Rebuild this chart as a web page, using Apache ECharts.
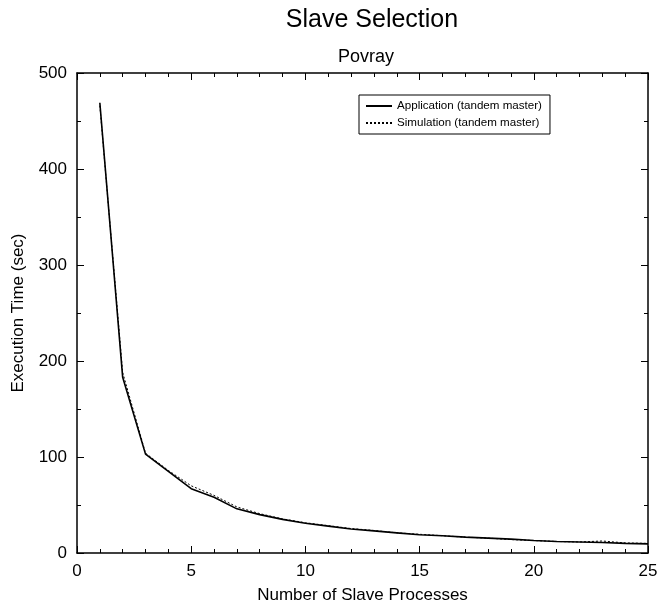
<!DOCTYPE html>
<html>
<head>
<meta charset="utf-8">
<script src="https://cdn.jsdelivr.net/npm/echarts@6/dist/echarts.min.js"></script>
<style>
  html, body { margin: 0; padding: 0; background: #fff; }
  #main { width: 662px; height: 609px; }
</style>
</head>
<body>
<div id="main"></div>
<script>
// slave process counts and execution times (sec)
const procs = [1, 2, 3, 4, 5, 6, 7, 8, 9, 10, 11, 12, 13, 14, 15, 16, 17, 18, 19, 20, 21, 22, 23, 24, 25]
const application = [469, 183, 103, 85, 67, 58, 46, 40, 35, 31, 28, 25, 23, 21, 19, 18, 16.5, 15.5, 14.5, 13, 12, 11.5, 11, 10, 9.5]
const simulation = [466, 188, 104, 86, 70, 60, 48, 41, 35.5, 31.5, 28.5, 25.5, 23.5, 21, 19.5, 18, 16.5, 15.5, 14, 13, 12, 11.5, 12.5, 10.5, 10]

const font = 'Liberation Sans'
const toPairs = (ys) => procs.map((x, i) => [x, ys[i]])

const myChart = echarts.init(document.getElementById('main'))

// ticks on the top and right edges of the box
function sideAxis(position, max, interval, split){
    return {
        type: 'value',
        position: position,
        min: 0,
        max: max,
        interval: interval,
        axisLine: { show: true, onZero: false, lineStyle: { color: '#000', width: 1.5 } },
        axisTick: { show: true, inside: true, length: 7, lineStyle: { color: '#000' } },
        minorTick: { show: true, splitNumber: split, length: 4, lineStyle: { color: '#000' } },
        axisLabel: { show: false },
        splitLine: { show: false }
    }
}

const option = {
    animation: false,
    textStyle: { fontFamily: font },
    title: [
        {
            text: 'Slave Selection',
            left: 367,
            textAlign: 'center',
            top: 3,
            textStyle: { fontFamily: font, fontSize: 25, fontWeight: 'normal', color: '#000' }
        },
        {
            text: 'Povray',
            left: 361,
            textAlign: 'center',
            top: 43,
            textStyle: { fontFamily: font, fontSize: 18, fontWeight: 'normal', color: '#000' }
        }
    ],
    legend: {
        orient: 'vertical',
        left: 359,
        top: 95,
        padding: [5, 8, 5, 6],
        itemGap: 5,
        itemWidth: 26,
        itemHeight: 8,
        borderColor: '#000',
        borderWidth: 1,
        itemStyle: { opacity: 0 },
        textStyle: { fontFamily: font, fontSize: 11.6, color: '#000' },
        data: ['Application (tandem master)', 'Simulation (tandem master)']
    },
    grid: { left: 77, right: 14, top: 73, bottom: 51 },
    xAxis: [
        {
            type: 'value',
            min: 0,
            max: 25,
            interval: 5,
            name: 'Number of Slave Processes',
            nameLocation: 'middle',
            nameGap: 34,
            nameTextStyle: { fontFamily: font, fontSize: 17, color: '#000' },
            axisLine: { lineStyle: { color: '#000', width: 1.5 } },
            axisTick: { inside: true, length: 7, lineStyle: { color: '#000' } },
            minorTick: { show: true, splitNumber: 5, length: 4, lineStyle: { color: '#000' } },
            axisLabel: { fontFamily: font, fontSize: 17, color: '#000', margin: 10 },
            splitLine: { show: false }
        },
        sideAxis('top', 25, 5, 5)
    ],
    yAxis: [
        {
            type: 'value',
            min: 0,
            max: 500,
            interval: 100,
            name: 'Execution Time (sec)',
            nameLocation: 'middle',
            nameGap: 50,
            nameTextStyle: { fontFamily: font, fontSize: 17, color: '#000' },
            axisLine: { show: true, lineStyle: { color: '#000', width: 1.5 } },
            axisTick: { show: true, inside: true, length: 7, lineStyle: { color: '#000' } },
            minorTick: { show: true, splitNumber: 2, length: 4, lineStyle: { color: '#000' } },
            axisLabel: { fontFamily: font, fontSize: 17, color: '#000', margin: 10 },
            splitLine: { show: false }
        },
        sideAxis('right', 500, 100, 2)
    ],
    series: [
        {
            name: 'Application (tandem master)',
            type: 'line',
            data: toPairs(application),
            symbol: 'none',
            lineStyle: { color: '#000', width: 1.6 },
            itemStyle: { color: '#000' }
        },
        {
            name: 'Simulation (tandem master)',
            type: 'line',
            data: toPairs(simulation),
            symbol: 'none',
            lineStyle: { color: '#000', width: 1, type: [2, 2] },
            itemStyle: { color: '#000' }
        }
    ]
}

myChart.setOption(option)
</script>
</body>
</html>
